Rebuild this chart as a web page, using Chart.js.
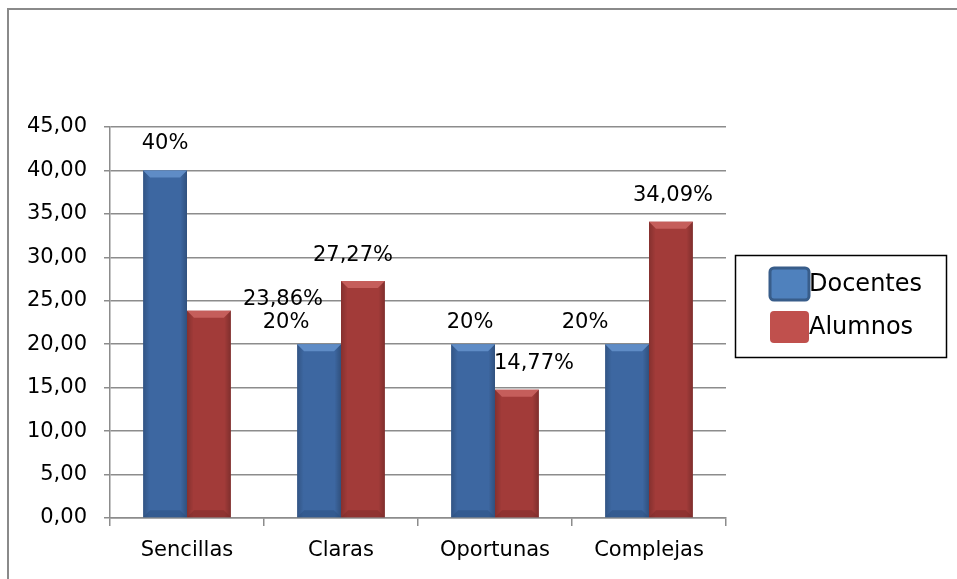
<!DOCTYPE html>
<html>
<head>
<meta charset="utf-8">
<script src="https://cdn.jsdelivr.net/npm/chart.js@4/dist/chart.umd.min.js"></script>
<style>
  html, body { margin: 0; padding: 0; background: #fff; }
  #wrap { width: 957px; height: 579px; position: relative; }
</style>
</head>
<body>
<div id="wrap"><canvas id="grafico"></canvas></div>
<script>
// datos
const categorias = ['Sencillas', 'Claras', 'Oportunas', 'Complejas'];
const docentes = [40, 20, 20, 20];
const alumnos = [23.86, 27.27, 14.77, 34.09];
const series = ['Docentes', 'Alumnos'];

const FONT = 'DejaVu Sans';
const GRID = '#8c8c8c';

// desplazamiento de las etiquetas respecto a la parte superior de cada barra [dx, dy]
const desplaz = [
    [[0, -27], [-33, -22], [-3, -22], [-42, -22]],
    [[74, -11], [-10, -26], [17, -26], [2, -26]]
];

// colores estilo Excel 2007
const estilos = [
    { base: '#3d67a1', luz: '#5f8cc6', sombra: '#2c4f80', leyenda: '#4f81bd', borde: '#385d8a' },
    { base: '#a23b39', luz: '#c55e5b', sombra: '#7c2b2a', leyenda: '#c0504d', borde: '#c0504d' }
];

function fmt(v) {
    if (Number.isInteger(v)) return v + '%';
    return v.toFixed(2).replace('.', ',') + '%';
}

const marco = {
    id: 'marco',
    beforeDraw(chart) {
        const ctx = chart.ctx;
        ctx.save();
        ctx.strokeStyle = '#8a8a8a';
        ctx.lineWidth = 2;
        ctx.beginPath();
        ctx.moveTo(8, chart.height);
        ctx.lineTo(8, 9);
        ctx.lineTo(chart.width, 9);
        ctx.stroke();
        ctx.restore();
    }
};

// bisel superior y bordes laterales de las barras
const bisel = {
    id: 'bisel',
    afterDatasetsDraw(chart) {
        const ctx = chart.ctx;
        ctx.save();
        chart.data.datasets.forEach((ds, i) => {
            const est = estilos[i];
            chart.getDatasetMeta(i).data.forEach(bar => {
                const w = bar.width;
                const l = bar.x - w / 2, r = bar.x + w / 2;
                const t = bar.y, b = bar.base;
                const d = 7;
                // sombreado horizontal
                const g = ctx.createLinearGradient(l, 0, r, 0);
                g.addColorStop(0, 'rgba(0,0,0,0.18)');
                g.addColorStop(0.15, 'rgba(0,0,0,0)');
                g.addColorStop(0.85, 'rgba(0,0,0,0)');
                g.addColorStop(1, 'rgba(0,0,0,0.22)');
                ctx.fillStyle = g;
                ctx.fillRect(l, t, w, b - t);
                // tapa
                ctx.fillStyle = est.luz;
                ctx.beginPath();
                ctx.moveTo(l, t);
                ctx.lineTo(r, t);
                ctx.lineTo(r - d, t + d);
                ctx.lineTo(l + d, t + d);
                ctx.closePath();
                ctx.fill();
                // base
                ctx.fillStyle = est.sombra;
                ctx.globalAlpha = 0.5;
                ctx.beginPath();
                ctx.moveTo(l, b);
                ctx.lineTo(r, b);
                ctx.lineTo(r - d, b - d);
                ctx.lineTo(l + d, b - d);
                ctx.closePath();
                ctx.fill();
                ctx.globalAlpha = 1;
            });
        });
        ctx.restore();
    }
};

const etiquetas = {
    id: 'etiquetas',
    afterDatasetsDraw(chart) {
        const ctx = chart.ctx;
        ctx.save();
        ctx.font = '21px "' + FONT + '"';
        ctx.fillStyle = '#000';
        ctx.textAlign = 'center';
        ctx.textBaseline = 'middle';
        chart.data.datasets.forEach((ds, i) => {
            chart.getDatasetMeta(i).data.forEach((bar, j) => {
                const off = desplaz[i][j];
                ctx.fillText(fmt(ds.data[j]), bar.x + off[0], bar.y + off[1]);
            });
        });
        ctx.restore();
    }
};

const leyenda = {
    id: 'leyenda',
    afterDraw(chart) {
        const ctx = chart.ctx;
        ctx.save();
        ctx.strokeStyle = '#000';
        ctx.lineWidth = 1.5;
        ctx.strokeRect(735.5, 255.5, 211, 102);
        ctx.font = '24px "' + FONT + '"';
        ctx.textBaseline = 'middle';
        ctx.textAlign = 'left';
        const filas = [284, 327];
        chart.data.datasets.forEach((ds, i) => {
            const est = estilos[i];
            const y = filas[i];
            ctx.fillStyle = est.leyenda;
            ctx.strokeStyle = est.borde;
            ctx.lineWidth = 3;
            ctx.beginPath();
            ctx.roundRect(770, y - 16, 39, 32, 4);
            ctx.fill();
            if (i === 0) ctx.stroke();
            ctx.fillStyle = '#000';
            ctx.fillText(ds.label, 809, y + 1);
        });
        ctx.restore();
    }
};

new Chart(document.getElementById('grafico'), {
    type: 'bar',
    data: {
        labels: categorias,
        datasets: [
            { label: series[0], data: docentes, backgroundColor: estilos[0].base },
            { label: series[1], data: alumnos, backgroundColor: estilos[1].base }
        ]
    },
    options: {
        responsive: true,
        maintainAspectRatio: false,
        animation: false,
        devicePixelRatio: 1,
        categoryPercentage: 0.57,
        barPercentage: 1.0,
        layout: { padding: { left: 10, top: 127, right: 231, bottom: 0 } },
        plugins: {
            legend: { display: false },
            tooltip: { enabled: false }
        },
        scales: {
            x: {
                grid: { display: true, drawOnChartArea: false, drawTicks: true, tickLength: 8, color: GRID, lineWidth: 1.5, offset: true },
                border: { display: true, color: GRID, width: 1.5 },
                ticks: { color: '#000', font: { family: FONT, size: 21 }, padding: 12, maxRotation: 0 },
                afterFit(scale) { scale.height = 61; }
            },
            y: {
                min: 0,
                max: 45,
                grid: { color: GRID, lineWidth: 1.5, tickLength: 6 },
                border: { display: true, color: GRID, width: 1.5 },
                ticks: {
                    stepSize: 5,
                    color: '#000',
                    font: { family: FONT, size: 21 },
                    padding: 17,
                    callback: v => v.toFixed(2).replace('.', ',')
                },
                afterFit(scale) { scale.width = 100; }
            }
        }
    },
    plugins: [marco, bisel, etiquetas, leyenda]
});
</script>
</body>
</html>
